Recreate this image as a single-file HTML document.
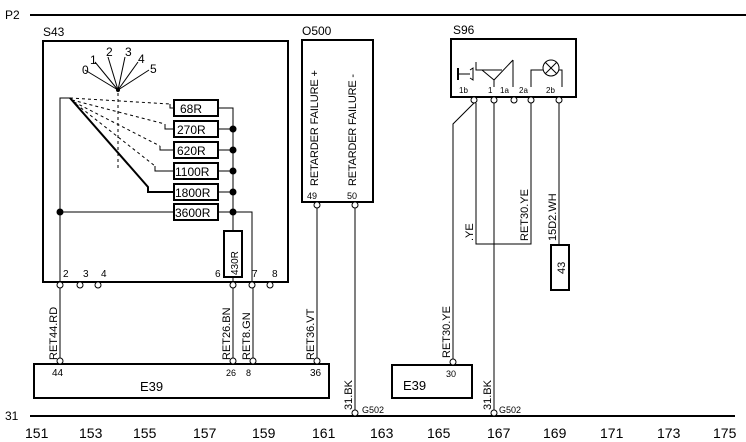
<!DOCTYPE html>
<html><head><style>body{margin:0;background:#fff}svg{display:block;font-family:"Liberation Sans",sans-serif}</style></head>
<body>
<svg width="746" height="442" viewBox="0 0 746 442" xmlns="http://www.w3.org/2000/svg">
<g stroke="#000" fill="none">
<line x1="30" y1="15" x2="746" y2="15" stroke-width="2"/>
<line x1="30" y1="416" x2="735" y2="416" stroke-width="2"/>
<rect x="43" y="41" width="245" height="241" stroke-width="2"/>
<rect x="302" y="40" width="71" height="162" stroke-width="2"/>
<rect x="451" y="39" width="125" height="58" stroke-width="2"/>
<rect x="34" y="364" width="295" height="34" stroke-width="2"/>
<rect x="392" y="365" width="80" height="33" stroke-width="2"/>
<rect x="551" y="245" width="18" height="45" stroke-width="2"/>
<rect x="174" y="100" width="44" height="16" stroke-width="2"/>
<rect x="174" y="121" width="44" height="16" stroke-width="2"/>
<rect x="174" y="142" width="44" height="16" stroke-width="2"/>
<rect x="174" y="163" width="44" height="16" stroke-width="2"/>
<rect x="174" y="184" width="44" height="16" stroke-width="2"/>
<rect x="174" y="204" width="44" height="16" stroke-width="2"/>
<rect x="224" y="231" width="18" height="46" stroke-width="2"/>
<g stroke-width="1">
<polyline points="218,108 233,108 233,231"/>
<line x1="218" y1="129" x2="233" y2="129"/><line x1="218" y1="150" x2="233" y2="150"/>
<line x1="218" y1="171" x2="233" y2="171"/><line x1="218" y1="192" x2="233" y2="192"/>
<line x1="60" y1="212" x2="174" y2="212"/>
<polyline points="218,212 252,212 252,282"/>
<line x1="233" y1="277" x2="233" y2="282"/>
<polyline points="70,98 60,98 60,282"/>
<line x1="118" y1="90" x2="85" y2="70"/><line x1="118" y1="90" x2="95" y2="62"/>
<line x1="118" y1="90" x2="108" y2="57"/><line x1="118" y1="90" x2="125" y2="57"/>
<line x1="118" y1="90" x2="138" y2="62"/><line x1="118" y1="90" x2="149" y2="70"/>
<line x1="118" y1="93" x2="118" y2="170" stroke-dasharray="3,3"/>
<g stroke-dasharray="3,3">
<line x1="70" y1="98" x2="170" y2="104"/>
<line x1="72" y1="100" x2="165" y2="124"/>
<line x1="74" y1="102" x2="160" y2="146"/>
<line x1="76" y1="104" x2="155" y2="166"/>
</g>
<polyline points="170,104 170,108 174,108"/><polyline points="165,124 165,129 174,129"/>
<polyline points="160,146 160,150 174,150"/><polyline points="155,166 155,171 174,171"/>
<polyline points="70,98 148,187 148,192 174,192" stroke-width="2"/>
<line x1="60" y1="287" x2="60" y2="360"/><line x1="233" y1="287" x2="233" y2="360"/>
<line x1="253" y1="287" x2="253" y2="360"/><line x1="317" y1="207" x2="317" y2="360"/>
<line x1="355" y1="207" x2="355" y2="411"/>
<polyline points="474,103 453,124 453,361"/>
<polyline points="476,103 476,244 531,244 531,103"/>
<line x1="494" y1="103" x2="494" y2="411"/>
<line x1="559" y1="103" x2="559" y2="245"/>
<line x1="458" y1="68" x2="458" y2="80" stroke-width="2"/><line x1="458" y1="74" x2="470" y2="74"/>
<path d="M470 70 L473 68 L473 80 L470 78"/>
<polyline points="476,62 476,70 502,70"/><polyline points="482,70 494,80 494,87"/>
<line x1="494" y1="80" x2="513" y2="60"/><line x1="513" y1="60" x2="513" y2="87"/>
<circle cx="551" cy="68" r="8"/><line x1="545" y1="62" x2="557" y2="74"/><line x1="557" y1="62" x2="545" y2="74"/>
<polyline points="531,87 531,70 543,70"/><polyline points="559,70 562,70 562,87"/>
</g>
<g fill="#fff" stroke-width="1">
<circle cx="60" cy="285" r="3"/><circle cx="80" cy="285" r="3"/><circle cx="98" cy="285" r="3"/>
<circle cx="233" cy="285" r="3"/><circle cx="252" cy="285" r="3"/><circle cx="270" cy="285" r="3"/>
<circle cx="317" cy="205" r="3"/><circle cx="355" cy="205" r="3"/>
<circle cx="474" cy="100" r="3"/><circle cx="494" cy="100" r="3"/><circle cx="514" cy="100" r="3"/><circle cx="531" cy="100" r="3"/><circle cx="559" cy="100" r="3"/>
<circle cx="60" cy="361" r="3"/><circle cx="233" cy="361" r="3"/><circle cx="253" cy="361" r="3"/><circle cx="317" cy="361" r="3"/><circle cx="453" cy="362" r="3"/>
<circle cx="355" cy="413" r="3"/><circle cx="494" cy="413" r="3"/>
</g>
</g>
<g fill="#000">
<circle cx="60" cy="212" r="3.5"/><circle cx="233" cy="129" r="3.5"/><circle cx="233" cy="150" r="3.5"/>
<circle cx="233" cy="171" r="3.5"/><circle cx="233" cy="192" r="3.5"/><circle cx="233" cy="212" r="3.5"/>
<circle cx="118" cy="90" r="2"/>
</g>
<g font-size="12">
<text x="5" y="19">P2</text><text x="5" y="420">31</text>
<text x="43" y="36">S43</text><text x="302" y="35">O500</text><text x="453" y="34">S96</text>
<text x="180" y="113">68R</text><text x="177" y="134">270R</text><text x="177" y="155">620R</text>
<text x="175" y="176">1100R</text><text x="175" y="197">1800R</text><text x="175" y="217">3600R</text>
<text x="82" y="74">0</text><text x="90" y="64">1</text><text x="106" y="56">2</text><text x="125" y="56">3</text><text x="138" y="63">4</text><text x="150" y="73">5</text>
<text x="140" y="391" font-size="13">E39</text><text x="403" y="390" font-size="13">E39</text>
</g>
<g font-size="10">
<text x="63" y="277">2</text><text x="83" y="277">3</text><text x="101" y="277">4</text>
<text x="215" y="277">6</text><text x="252" y="277">7</text><text x="272" y="277">8</text>
<text x="52" y="376">44</text><text x="226" y="376" font-size="9">26</text><text x="246" y="376" font-size="9">8</text><text x="310" y="376">36</text>
<text x="446" y="377" font-size="9">30</text>
<text x="307" y="199" font-size="9">49</text><text x="347" y="199" font-size="9">50</text>
<text x="459" y="93" font-size="8">1b</text><text x="488" y="93" font-size="8">1</text><text x="500" y="93" font-size="8">1a</text><text x="519" y="93" font-size="8">2a</text><text x="546" y="93" font-size="8">2b</text>
<text x="362" y="413" font-size="9">G502</text><text x="499" y="413" font-size="9">G502</text>
<g transform="rotate(-90)">
<text x="-275" y="238">430R</text>
<text x="-360" y="57" font-size="11">RET44.RD</text>
<text x="-360" y="230" font-size="11">RET26.BN</text>
<text x="-360" y="250" font-size="11">RET8.GN</text>
<text x="-360" y="314" font-size="11">RET36.VT</text>
<text x="-186" y="318" font-size="11" textLength="116">RETARDER FAILURE +</text>
<text x="-186" y="356" font-size="11" textLength="112">RETARDER FAILURE -</text>
<text x="-410" y="352" font-size="11">31.BK</text>
<text x="-410" y="491" font-size="11">31.BK</text>
<text x="-358" y="450" font-size="11">RET30.YE</text>
<text x="-241" y="473" font-size="11">.YE</text>
<text x="-241" y="528" font-size="11">RET30.YE</text>
<text x="-241" y="556" font-size="11">15D2.WH</text>
<text x="-274" y="565" font-size="11">43</text>
</g>
</g>
<g font-size="14">
<text x="25" y="438">151</text><text x="79" y="438">153</text><text x="133" y="438">155</text><text x="193" y="438">157</text>
<text x="252" y="438">159</text><text x="312" y="438">161</text><text x="370" y="438">163</text><text x="427" y="438">165</text>
<text x="487" y="438">167</text><text x="543" y="438">169</text><text x="600" y="438">171</text><text x="657" y="438">173</text><text x="713" y="438">175</text>
</g>
</svg>
</body></html>
